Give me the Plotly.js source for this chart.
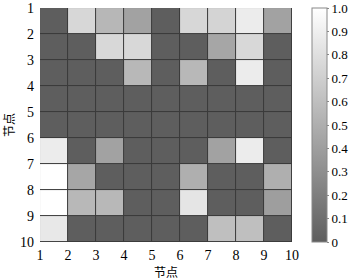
<!DOCTYPE html>
<html><head><meta charset="utf-8">
<script src="https://cdn.plot.ly/plotly-3.0.1.min.js"></script>
<style>body{margin:0;background:#fff}</style>
</head><body><div id="c" style="width:351px;height:280px"></div>
<script>
const nodeEdges = [1,2,3,4,5,6,7,8,9,10];
const tickLabels = ['1','2','3','4','5','6','7','8','9','10'];
const row1 = [0, 0.75, 0.55, 0.42, 0, 0.75, 0.73, 0.88, 0.42];
const row2 = [0, 0, 0.76, 0.76, 0, 0, 0.45, 0.76, 0];
const row3 = [0, 0, 0, 0.56, 0, 0.56, 0, 0.88, 0];
const row4 = [0, 0, 0, 0, 0, 0, 0, 0, 0];
const row5 = [0, 0, 0, 0, 0, 0, 0, 0, 0];
const row6 = [0.88, 0, 0.42, 0, 0, 0, 0.42, 0.88, 0];
const row7 = [1.0, 0.45, 0, 0, 0, 0.5, 0, 0, 0.5];
const row8 = [1.0, 0.56, 0.56, 0, 0, 0.84, 0, 0, 0.4];
const row9 = [0.86, 0, 0, 0, 0, 0, 0.6, 0.6, 0];
const cbVals = [0,0.1,0.2,0.3,0.4,0.5,0.6,0.7,0.8,0.9,1.0];
const cbText = ['0','0.1','0.2','0.3','0.4','0.5','0.6','0.7','0.8','0.9','1.0'];
const z = [row1,row2,row3,row4,row5,row6,row7,row8,row9];
const serif = 'Liberation Serif';
Plotly.newPlot('c', [{
  type:'heatmap', x:nodeEdges, y:nodeEdges, z:z, zmin:0, zmax:1,
  colorscale:[[0,'#5e5e5e'],[1,'#ffffff']],
  xgap:1, ygap:1, hoverinfo:'none',
  colorbar:{x:1.079, xanchor:'left', xpad:0, y:0.5, yanchor:'middle', ypad:0, len:1, lenmode:'fraction',
    thickness:15, outlinecolor:'#888', outlinewidth:1, ticklabeloverflow:'allow',
    tickvals:cbVals, ticktext:cbText, ticks:'outside', ticklen:2, tickcolor:'#888',
    tickfont:{family:serif, size:13, color:'#000'}}
}], {
  width:351, height:280, margin:{l:40, r:59, t:8, b:38, autoexpand:false},
  plot_bgcolor:'#3a3a3a', paper_bgcolor:'#fff',
  xaxis:{range:[0.999,10.001], tickvals:nodeEdges, ticktext:tickLabels, showgrid:false, zeroline:false,
    ticks:'', ticklabelstandoff:3, ticklabeloverflow:'allow', tickfont:{family:serif, size:14, color:'#000'},
    title:{text:'节点', font:{family:'Noto Sans CJK SC', size:12, color:'#000'}, standoff:4}},
  yaxis:{range:[10.001,0.999], tickvals:nodeEdges, ticktext:tickLabels, showgrid:false, zeroline:false,
    ticks:'', ticklabelstandoff:5, ticklabeloverflow:'allow', tickfont:{family:serif, size:14, color:'#000'},
    title:{text:'节点', font:{family:'Noto Sans CJK SC', size:12, color:'#000'}, standoff:6}}
}, {staticPlot:true});
</script></body></html>
